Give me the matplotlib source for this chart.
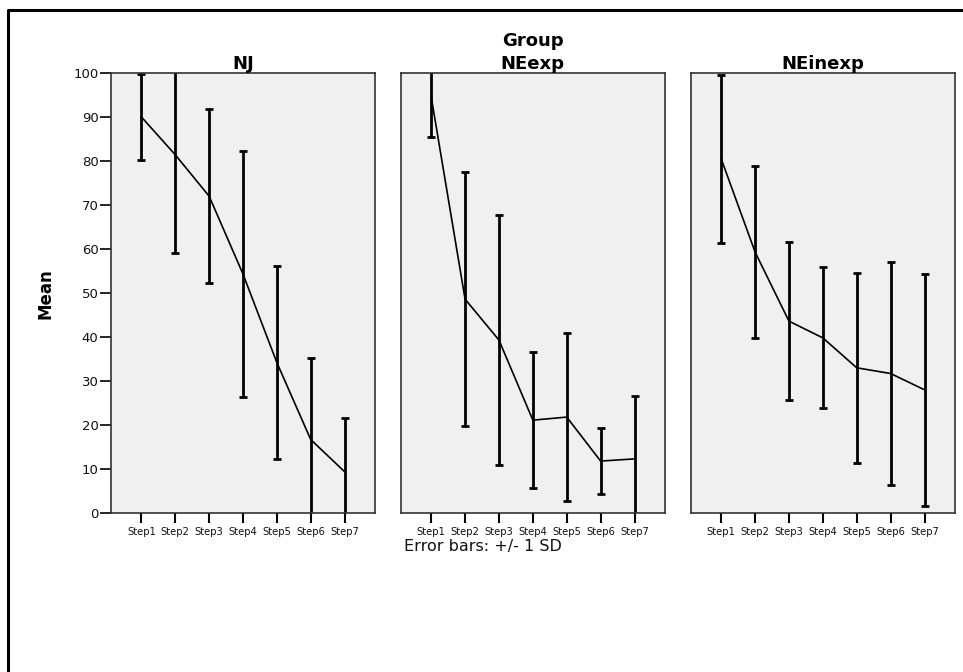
import matplotlib
matplotlib.use("Agg")
import matplotlib.pyplot as plt
from matplotlib.lines import Line2D
from matplotlib import font_manager

# values
steps = ["Step1", "Step2", "Step3", "Step4", "Step5", "Step6", "Step7"]
groups = ["NJ", "NEexp", "NEinexp"]

nj_mean = [90.0, 81.4, 72.0, 54.3, 34.2, 16.7, 9.4]
nj_sd = [9.7, 22.4, 19.8, 27.9, 21.9, 18.5, 12.3]

neexp_mean = [94.6, 48.6, 39.3, 21.1, 21.8, 11.8, 12.3]
neexp_sd = [9.1, 28.8, 28.5, 15.5, 19.1, 7.5, 14.4]

neinexp_mean = [80.5, 59.3, 43.6, 39.8, 33.0, 31.7, 28.0]
neinexp_sd = [19.1, 19.5, 17.9, 16.0, 21.6, 25.3, 26.4]

yticks = [0, 10, 20, 30, 40, 50, 60, 70, 80, 90, 100]

W, H = 963, 672
plt.rcParams['font.family'] = ['DejaVu Sans']

# a narrow bold face for the rotated axis label, if one is installed
names = {f.name for f in font_manager.fontManager.ttflist}
narrow = [n for n in ('Liberation Sans Narrow', 'DejaVu Sans Condensed') if n in names]

fig = plt.figure(figsize=(W / 100, H / 100), dpi=100)

# panel boxes in pixels: left, right (top 73, bottom 513)
panels_px = [(111, 375), (400.7, 665), (690.7, 955)]
top_px, bot_px = 73, 513

means = [nj_mean, neexp_mean, neinexp_mean]
sds = [nj_sd, neexp_sd, neinexp_sd]
x = list(range(1, len(steps) + 1))

for i, (l, r) in enumerate(panels_px):
    ax = fig.add_axes([l / W, 1 - bot_px / H, (r - l) / W, (bot_px - top_px) / H])
    ax.set_facecolor('#f0f0f0')
    ax.errorbar(x, means[i], yerr=sds[i], color='black', lw=1.2,
                elinewidth=2, capsize=3, capthick=2)
    ax.set_xlim(0.1, 7.9)
    ax.set_ylim(0, 100)
    ax.set_xticks(x)
    ax.set_xticklabels(steps, fontsize=7.2, color='#111111')
    ax.tick_params(axis='x', direction='out', length=7, width=1.5, pad=3)
    for sp in ax.spines.values():
        sp.set_color('#333333')
        sp.set_linewidth(1.2)
    if i == 0:
        ax.set_yticks(yticks)
        ax.tick_params(axis='y', direction='out', length=8, width=1.2,
                       labelsize=9.5, pad=1, labelcolor='#111111')
    else:
        ax.set_yticks([])
    ax.set_title(groups[i], fontsize=13, fontweight='bold', pad=2)

fig.text(532.9 / W, 1 - 40.5 / H, "Group", fontsize=13, fontweight='bold',
         ha='center', va='center')
if narrow:
    fig.text(45 / W, 1 - 294 / H, "Mean", fontsize=14, fontweight='bold',
             rotation=90, ha='center', va='center', family=narrow + ['DejaVu Sans'])
else:
    fig.text(45 / W, 1 - 294 / H, "Mean", fontsize=12, fontweight='bold',
             rotation=90, ha='center', va='center')
fig.text(404 / W, 1 - 547 / H, "Error bars: +/- 1 SD", fontsize=11.5,
         ha='left', va='center', color='#111111')

# outer frame, only top and left edges show
frame = Line2D([7.5 / W, 7.5 / W, 1.0], [0.0, 1 - 9.5 / H, 1 - 9.5 / H],
               transform=fig.transFigure, color='black', lw=2.2)
fig.add_artist(frame)

fig.savefig("out.png", dpi=100)
